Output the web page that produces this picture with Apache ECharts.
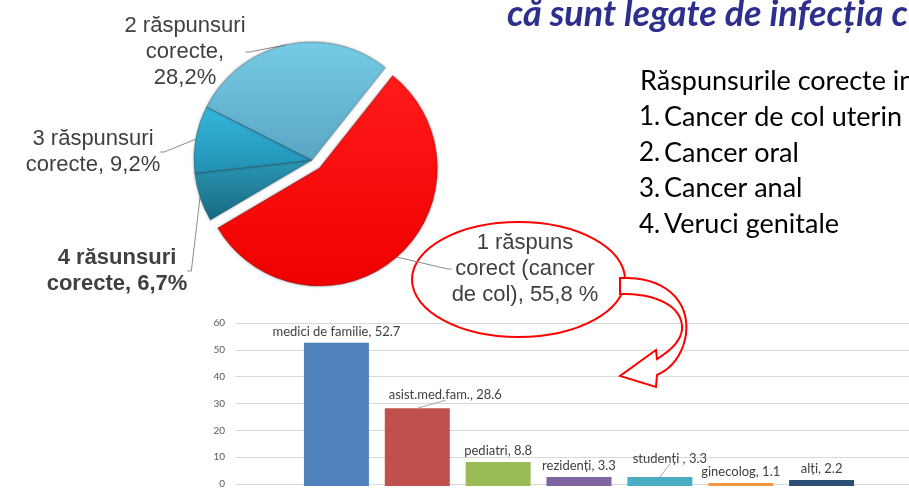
<!DOCTYPE html>
<html>
<head>
<meta charset="utf-8">
<script src="https://cdn.jsdelivr.net/npm/echarts@6/dist/echarts.min.js"></script>
<style>
  html, body { margin: 0; padding: 0; background: #fff; }
  #chart { width: 909px; height: 489px; }
</style>
</head>
<body>
<div id="chart"></div>
<script>
// pie: distribution of correct answers
const pieNames = ['1 răspuns corect', '4 răsunsuri corecte', '3 răspunsuri corecte', '2 răspunsuri corecte'];
const pieValues = [55.8, 6.7, 9.2, 28.2];
const pieLabels = [
  '1 răspuns\ncorect (cancer\nde col), 55,8 %',
  '4 răsunsuri\ncorecte, 6,7%',
  '3 răspunsuri\ncorecte, 9,2%',
  '2 răspunsuri\ncorecte,\n28,2%'
];

// bar: respondents by category
const barCats = ['medici de familie', 'asist.med.fam.', 'pediatri', 'rezidenți', 'studenți ', 'ginecolog', 'alți'];
const barValues = [52.7, 28.6, 8.8, 3.3, 3.3, 1.1, 2.2];
const barColors = ['#4f81bd', '#c0504d', '#9bbb59', '#8064a2', '#4bacc6', '#f79646', '#2c4d75'];

const titleText = 'că sunt legate de infecția cu HPV';
const listHeader = 'Răspunsurile corecte in';
const listItems = ['Cancer de col uterin', 'Cancer oral', 'Cancer anal', 'Veruci genitale'];

// layout only
const pieCenter = [312, 160];
const explode = [7.4, 8.1];
const pieLabelPos = [[525, 269], [117, 271], [93, 152], [185, 52]];
const barLabelShift = { 1: [28, -2], 4: [10, -7] };
const barLabelDist = 5;
const sliceFills = [
  ['#ff1a1a', '#f00000'],
  ['#2b97b5', '#176a82'],
  ['#36b6dc', '#2190b3'],
  ['#76cbe5', '#5aa6c4']
];

function grad(c) {
  return new echarts.graphic.LinearGradient(0, 0, 0, 1, [
    { offset: 0, color: c[0] },
    { offset: 1, color: c[1] }
  ]);
}

// sample a cubic bezier into points (for the curved arrow outline)
function bez(p0, p1, p2, p3, n) {
  const pts = [];
  for (let i = 1; i <= n; i++) {
    const t = i / n, u = 1 - t;
    pts.push([
      u * u * u * p0[0] + 3 * u * u * t * p1[0] + 3 * u * t * t * p2[0] + t * t * t * p3[0],
      u * u * u * p0[1] + 3 * u * u * t * p1[1] + 3 * u * t * t * p2[1] + t * t * t * p3[1]
    ]);
  }
  return pts;
}
let arrowPts = [[620, 278]];
arrowPts = arrowPts.concat(bez([620, 278], [664, 276], [690, 300], [686, 334], 16));
arrowPts = arrowPts.concat(bez([686, 334], [683, 355], [671, 369], [657, 375], 10));
arrowPts.push([656, 387], [620, 376], [656, 350], [657, 359]);
arrowPts = arrowPts.concat(bez([657, 359], [668, 352], [680, 343], [682, 330], 10));
arrowPts = arrowPts.concat(bez([682, 330], [684, 306], [655, 293], [620, 294], 16));

const chart = echarts.init(document.getElementById('chart'));

const graphics = [
  {
    type: 'text', x: 507, y: 14, z: 10,
    style: { text: titleText, font: 'italic bold 36px Lato', fill: '#2c2f8c', verticalAlign: 'middle' }
  },
  {
    type: 'text', x: 640, y: 81, z: 10,
    style: { text: listHeader, font: '27px Lato', fill: '#000', verticalAlign: 'middle' }
  },
  {
    type: 'ellipse', z: 3,
    shape: { cx: 518.5, cy: 279.5, rx: 106.5, ry: 57.5 },
    style: { fill: 'none', stroke: '#ff0000', lineWidth: 2 }
  },
  {
    type: 'polygon', z: 3,
    shape: { points: arrowPts },
    style: { fill: '#fff', stroke: '#ff0000', lineWidth: 2 }
  }
];
listItems.forEach(function (t, i) {
  const y = 117 + i * 35.8;
  graphics.push({
    type: 'text', x: 639, y: y, z: 10,
    style: { text: (i + 1) + '.', font: '26px Lato', fill: '#000', verticalAlign: 'middle' }
  });
  graphics.push({
    type: 'text', x: 664, y: y, z: 10,
    style: { text: t, font: '27px Lato', fill: '#000', verticalAlign: 'middle' }
  });
});

const pieTotal = pieValues.reduce(function (a, b) { return a + b; }, 0);
const hidden = {
  itemStyle: { color: 'rgba(0,0,0,0)', borderWidth: 0, shadowBlur: 0 },
  label: { show: false }, labelLine: { show: false }
};

function slice(i) {
  const item = {
    name: pieNames[i], value: pieValues[i],
    itemStyle: { color: grad(sliceFills[i]) }
  };
  if (i === 1) item.label = { fontWeight: 'bold' };
  return item;
}

const pieCommon = {
  type: 'pie',
  z: 4,
  radius: 118,
  startAngle: 51.6,
  itemStyle: {
    borderColor: 'rgba(40,60,70,0.35)', borderWidth: 0.8,
    shadowBlur: 3, shadowColor: 'rgba(0,0,0,0.35)'
  },
  label: {
    show: true,
    formatter: function (p) { return pieLabels[p.data.idx]; },
    fontFamily: 'Liberation Sans', fontSize: 22, lineHeight: 26,
    color: '#404040', align: 'center'
  },
  labelLine: {
    show: true, length: 10, length2: 4,
    lineStyle: { color: '#8c8c8c', width: 1 }
  },
  labelLayout: function (p) {
    const pos = pieLabelPos[p.dataIndex === 0 && p.seriesIndex === 1 ? 0 : p.dataIndex];
    return { x: pos[0], y: pos[1], align: 'center', verticalAlign: 'middle' };
  },
  emphasis: { disabled: true },
  silent: true
};

// red slice, pulled out of the pie
const redData = [
  Object.assign(slice(0), { idx: 0 }),
  Object.assign({ name: 'rest', value: pieTotal - pieValues[0] }, hidden)
];
// the three blue slices
const blueData = [
  Object.assign({ name: 'rest', value: pieValues[0] }, hidden),
  Object.assign(slice(1), { idx: 1 }),
  Object.assign(slice(2), { idx: 2 }),
  Object.assign(slice(3), { idx: 3 })
];

const option = {
  animation: false,
  backgroundColor: '#fff',
  graphic: { elements: graphics },
  grid: [
    { left: 235, right: -10, top: 323, bottom: 3 },
    { left: 296, width: 566, top: 323, bottom: 3 }
  ],
  xAxis: [
    { gridIndex: 0, type: 'value', show: false },
    { gridIndex: 1, type: 'category', data: barCats, show: false }
  ],
  yAxis: [
    {
      gridIndex: 0, type: 'value', min: 0, max: 60, interval: 10,
      axisLine: { show: false }, axisTick: { show: false },
      axisLabel: { color: '#595959', fontFamily: 'Lato', fontSize: 10, margin: 10 },
      splitLine: { lineStyle: { color: '#d9d9d9', width: 1 } }
    },
    { gridIndex: 1, type: 'value', min: 0, max: 60, show: false, splitLine: { show: false } }
  ],
  series: [
    {
      type: 'bar',
      xAxisIndex: 1, yAxisIndex: 1,
      barWidth: 65,
      z: 2,
      data: barValues.map(function (v, i) {
        return { value: v, itemStyle: { color: barColors[i] } };
      }),
      label: {
        show: true, position: 'top', distance: barLabelDist,
        formatter: '{b}, {c}',
        color: '#404040', fontFamily: 'Lato', fontSize: 13
      },
      labelLayout: function (p) {
        const s = barLabelShift[p.dataIndex];
        if (!s) return {};
        const l = p.labelRect;
        return {
          x: l.x + l.width / 2 + s[0], y: l.y + l.height / 2 + s[1],
          align: 'center', verticalAlign: 'middle'
        };
      }
    },
    Object.assign({}, pieCommon, {
      center: [pieCenter[0] + explode[0], pieCenter[1] + explode[1]],
      data: redData
    }),
    Object.assign({}, pieCommon, {
      center: pieCenter,
      data: blueData
    })
  ]
};

chart.setOption(option);

// leader lines for the two moved bar labels, placed from the axis scales
Object.keys(barLabelShift).forEach(function (k) {
  const i = +k, s = barLabelShift[k];
  const top = chart.convertToPixel({ xAxisIndex: 1, yAxisIndex: 1 }, [i, barValues[i]]);
  const endY = top[1] - barLabelDist + s[1] - 1;
  graphics.push({
    type: 'line', z: 5,
    shape: { x1: top[0], y1: top[1], x2: top[0] + s[0], y2: endY },
    style: { stroke: '#a6a6a6', lineWidth: 1 }
  });
});
chart.setOption({ graphic: { elements: graphics } });
</script>
</body>
</html>
